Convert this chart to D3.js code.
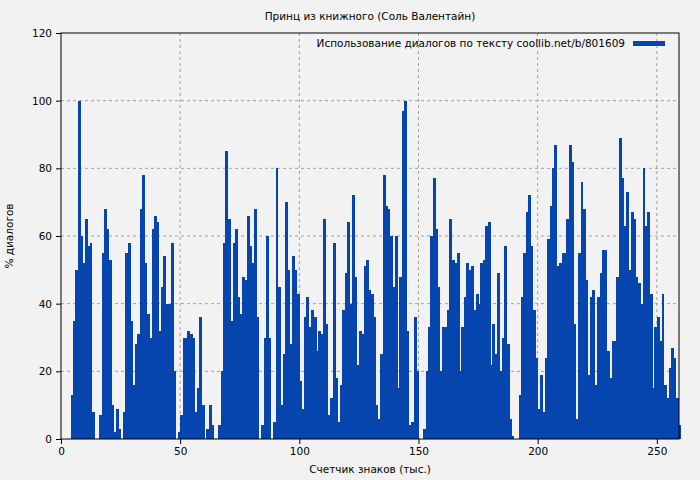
<!DOCTYPE html>
<html><head><meta charset="utf-8">
<script src="https://cdn.jsdelivr.net/npm/d3@7"></script>
<style>body{margin:0;background:#f2f2f2;} text{font-family:"DejaVu Sans",sans-serif;}</style>
</head><body>
<div id="chart"></div>
<script>
// % dialogue per 1000 chars, one value per thousand
var values = [0,0,0,0,13,35,50,100,60,52,65,57,58,8,0,0,7,55,68,62,
  53,10,2,9,3,0,8,55,58,35,16,28,31,68,78,52,37,30,62,66,
  64,32,45,54,40,40,58,20,0,2,7,30,30,32,31,30,8,15,36,10,
  0,3,10,4,0,0,4,20,58,85,65,35,58,62,42,37,48,47,66,57,
  52,68,36,0,4,30,60,30,0,5,80,45,10,25,70,50,28,54,50,43,
  17,9,36,42,33,38,36,26,32,31,65,34,7,12,58,18,5,16,38,49,
  64,40,72,48,22,32,31,51,53,44,43,36,10,6,25,78,69,68,60,45,
  60,15,48,97,100,32,4,5,36,20,0,0,3,20,33,60,77,62,45,20,
  33,33,38,65,53,52,55,20,33,42,52,50,51,38,43,40,52,53,63,64,
  22,34,25,49,20,30,57,28,6,1,0,0,13,42,55,67,72,57,38,24,
  9,19,8,24,59,69,80,87,51,52,55,55,65,87,82,34,6,55,76,68,
  47,19,42,44,16,42,49,56,56,26,18,29,29,48,89,77,63,73,50,67,
  65,48,46,40,80,63,67,43,15,33,36,29,43,16,12,21,27,24,12,4];
var yTicks = [0,20,40,60,80,100,120];
var xTicks = [0,50,100,150,200,250];
var title = "Принц из книжного (Соль Валентайн)";
var legendLabel = "Использование диалогов по тексту coollib.net/b/801609";

var W = 700, H = 480;
var margin = {left:61, right:21, top:33, bottom:41};
var width = W - margin.left - margin.right, height = H - margin.top - margin.bottom;
var blue = "#0645ad";
var fs = 10.5;

var svg = d3.select("#chart").append("svg").attr("width", W).attr("height", H)
    .style("background", "#f2f2f2");
var g = svg.append("g").attr("transform", "translate(" + margin.left + "," + margin.top + ")");

var x = d3.scaleLinear().domain([0, 259.3]).range([0, width]);
var y = d3.scaleLinear().domain([0, 120]).range([height, 0]);

// grid
g.selectAll(".gy").data(yTicks.slice(1, -1)).enter().append("line")
    .attr("x1", 0).attr("x2", width).attr("y1", d => y(d)).attr("y2", d => y(d))
    .attr("stroke", "#a0a0a0").attr("stroke-dasharray", "3,3");
g.selectAll(".gx").data(xTicks.slice(1)).enter().append("line")
    .attr("y1", 0).attr("y2", height).attr("x1", d => x(d)).attr("x2", d => x(d))
    .attr("stroke", "#a0a0a0").attr("stroke-dasharray", "3,3");

// bars
g.selectAll("rect.bar").data(values).enter().append("rect")
    .attr("x", (d, i) => x(i))
    .attr("width", (d, i) => x(i + 1) - x(i) + 0.5)
    .attr("y", d => y(d))
    .attr("height", d => height - y(d))
    .attr("fill", blue)
    .attr("shape-rendering", "crispEdges");

// frame
g.append("rect").attr("width", width).attr("height", height)
    .attr("fill", "none").attr("stroke", "#000");

var xAxis = g.append("g").attr("transform", "translate(0," + height + ")")
    .call(d3.axisBottom(x).tickValues(xTicks).tickSize(5).tickPadding(4));
var yAxis = g.append("g")
    .call(d3.axisLeft(y).tickValues(yTicks).tickSize(5).tickPadding(4));
[xAxis, yAxis].forEach(function(a){
    a.select(".domain").remove();
    a.selectAll("text").attr("font-size", fs).attr("fill", "#000")
        .style("font-family", "DejaVu Sans");
});

svg.append("text").attr("x", margin.left + width / 2).attr("y", 20)
    .attr("text-anchor", "middle").attr("font-size", fs).text(title);
svg.append("text").attr("x", margin.left + width / 2).attr("y", 473)
    .attr("text-anchor", "middle").attr("font-size", fs).text("Счетчик знаков (тыс.)");
svg.append("text").attr("transform", "translate(13," + (margin.top + height / 2) + ") rotate(-90)")
    .attr("text-anchor", "middle").attr("font-size", fs).text("% диалогов");

// legend
svg.append("text").attr("x", 625).attr("y", 47).attr("text-anchor", "end")
    .attr("font-size", fs).text(legendLabel);
svg.append("rect").attr("x", 633).attr("y", 41).attr("width", 32).attr("height", 5).attr("fill", blue);
</script>
</body></html>
